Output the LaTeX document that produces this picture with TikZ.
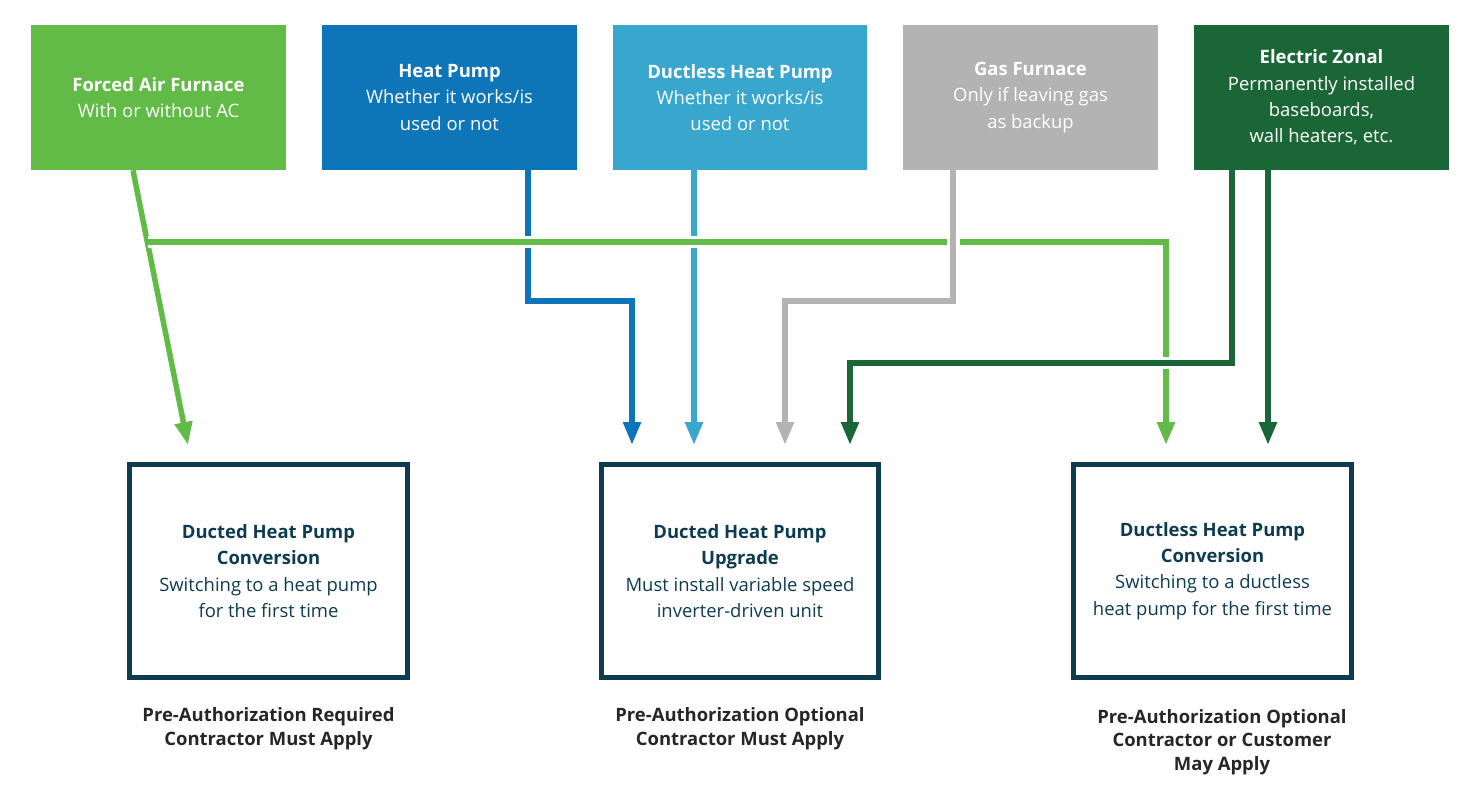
\documentclass[tikz,border=0pt]{standalone}
\usepackage{fontspec}
\setmainfont{Open Sans}
\usetikzlibrary{arrows.meta}

\definecolor{cgreen}{HTML}{62BB46}
\definecolor{cblue}{HTML}{0E75B8}
\definecolor{clblue}{HTML}{38A6CD}
\definecolor{cgrey}{HTML}{B3B3B3}
\definecolor{cdgreen}{HTML}{1B6637}
\definecolor{cteal}{HTML}{0D3B4F}

\tikzset{
  topbox/.style={minimum width=5.1cm, minimum height=2.9cm, inner sep=0pt, text=white,
    align=center, font=\fontsize{10.5}{15}\selectfont},
  resultbox/.style={draw=cteal, line width=0.1cm, minimum width=5.56cm, minimum height=4.26cm,
    inner sep=0pt, text=cteal, align=center, font=\fontsize{10.5}{15}\selectfont},
  caption/.style={align=center, text=black!85, font=\bfseries\fontsize{10.5}{13.5}\selectfont},
  arr/.style={line width=0.11cm, -{Triangle[length=0.46cm, width=0.34cm]}},
  halo/.style={preaction={draw=white, line width=0.26cm, -}},
}

\begin{document}
\begin{tikzpicture}[x=0.02cm, y=-0.02cm]
  \useasboundingbox (0,0) rectangle (1472,811);

  % source systems
  \node[topbox, fill=cgreen] (fa) at (158.5,97.5) {\textbf{Forced Air Furnace}\\With or without AC};
  \node[topbox, fill=cblue] (hp) at (449.5,97.5) {\textbf{Heat Pump}\\Whether it works/is\\used or not};
  \node[topbox, fill=clblue] (dhp) at (740,97.5) {\textbf{Ductless Heat Pump}\\Whether it works/is\\used or not};
  \node[topbox, fill=cgrey] (gf) at (1030.5,97.5) {\textbf{Gas Furnace}\\Only if leaving gas\\as backup};
  \node[topbox, fill=cdgreen] (ez) at (1321.5,97.5) {\textbf{Electric Zonal}\\Permanently installed\\baseboards,\\wall heaters, etc.};

  % programs
  \node[resultbox] (dc) at (268.5,571) {\textbf{Ducted Heat Pump}\\\textbf{Conversion}\\Switching to a heat pump\\for the first time};
  \node[resultbox] (du) at (740,571) {\textbf{Ducted Heat Pump}\\\textbf{Upgrade}\\Must install variable speed\\inverter-driven unit};
  \node[resultbox] (dl) at (1212.5,571) {\textbf{Ductless Heat Pump}\\\textbf{Conversion}\\Switching to a ductless\\heat pump for the first time};

  \node[caption] (capdc) at (268.5,729) {Pre-Authorization Required\\Contractor Must Apply};
  \node[caption] (capdu) at (740,729) {Pre-Authorization Optional\\Contractor Must Apply};
  \node[caption] (capdl) at (1222,742) {Pre-Authorization Optional\\Contractor or Customer\\May Apply};

  % arrow ends
  \coordinate (e1) at (188,445);
  \coordinate (e2) at (632,445);
  \coordinate (e3) at (694,445);
  \coordinate (e4) at (785,445);
  \coordinate (e5) at (850,445);
  \coordinate (e6) at (1166,445);
  \coordinate (e7) at (1268,445);

  % connectors
  \draw[arr, cblue] (fa.south -| 528,0) -- (528,301) -| (e2);
  \draw[arr, clblue] (dhp.south -| 694,0) -- (e3);
  \draw[arr, cgreen] (fa.south -| 133,0) -- (e1);
  \draw[arr, cgreen, halo] (148,242) -| (e6);
  \draw[arr, cgrey, halo] (gf.south -| 953,0) -- (953,301) -| (e4);
  \draw[arr, cdgreen, halo] (ez.south -| 1232,0) -- (1232,363) -| (e5);
  \draw[arr, cdgreen] (ez.south -| 1268,0) -- (e7);
\end{tikzpicture}
\end{document}
